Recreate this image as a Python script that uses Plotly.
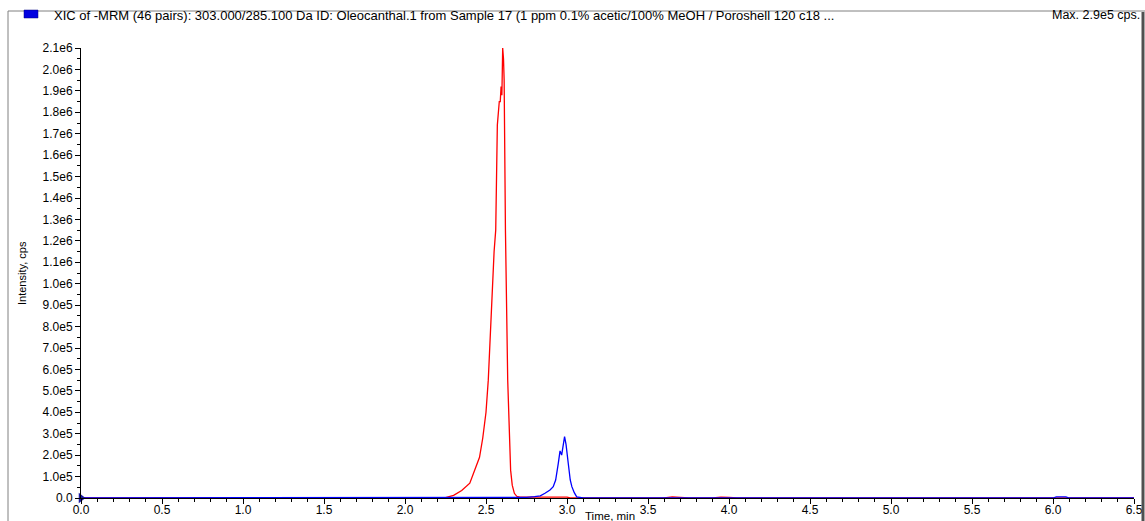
import plotly.graph_objects as go

# ---- data ----
red_time = [0.0, 2.20, 2.25, 2.30, 2.35, 2.40, 2.44, 2.46, 2.48, 2.50, 2.514, 2.53, 2.55, 2.56,
            2.57, 2.582, 2.588, 2.593, 2.598, 2.603, 2.608, 2.612, 2.62, 2.634, 2.642, 2.652,
            2.662, 2.675, 2.69, 2.71, 2.8, 2.9, 3.0, 3.02, 3.6, 3.65, 3.7, 3.75, 3.9, 3.95,
            4.0, 4.05, 6.5]
red_cps = [0, 0, 2e3, 1.2e4, 3.5e4, 6.9e4, 1.5e5, 1.9e5, 2.8e5, 4.0e5, 5.5e5, 8.5e5, 1.15e6,
           1.25e6, 1.74e6, 1.85e6, 1.85e6, 1.92e6, 1.88e6, 2.1e6, 2.05e6, 1.95e6, 1.25e6,
           5.5e5, 3.0e5, 1.3e5, 6e4, 2.2e4, 8e3, 4e3, 4e3, 5e3, 4e3, 0, 0, 5e3, 3e3, 0, 0,
           4e3, 3e3, 0, 0]

blue_time = [0.0, 2.70, 2.75, 2.80, 2.835, 2.864, 2.895, 2.915, 2.93, 2.946, 2.957, 2.967,
             2.977, 2.985, 2.994, 3.0, 3.008, 3.02, 3.03, 3.045, 3.06, 3.10, 6.0, 6.02, 6.05,
             6.08, 6.1, 6.5]
blue_cps = [0, 0, 3e3, 6e3, 1.0e4, 2.2e4, 3.7e4, 5.3e4, 8.4e4, 1.6e5, 2.2e5, 2.0e5, 2.55e5,
            2.86e5, 2.5e5, 2.2e5, 1.6e5, 8.4e4, 5.3e4, 2.5e4, 5e3, 0, 0, 5e3, 4e3, 5e3, 0, 0]

y_tick_vals = [0, 1e5, 2e5, 3e5, 4e5, 5e5, 6e5, 7e5, 8e5, 9e5, 1.0e6, 1.1e6, 1.2e6, 1.3e6,
               1.4e6, 1.5e6, 1.6e6, 1.7e6, 1.8e6, 1.9e6, 2.0e6, 2.1e6]
y_tick_text = ["0.0", "1.0e5", "2.0e5", "3.0e5", "4.0e5", "5.0e5", "6.0e5", "7.0e5", "8.0e5",
               "9.0e5", "1.0e6", "1.1e6", "1.2e6", "1.3e6", "1.4e6", "1.5e6", "1.6e6",
               "1.7e6", "1.8e6", "1.9e6", "2.0e6", "2.1e6"]
x_tick_vals = [0.0, 0.5, 1.0, 1.5, 2.0, 2.5, 3.0, 3.5, 4.0, 4.5, 5.0, 5.5, 6.0, 6.5]
x_tick_text = ["0.0", "0.5", "1.0", "1.5", "2.0", "2.5", "3.0", "3.5", "4.0", "4.5", "5.0",
               "5.5", "6.0", "6.5"]

title_text = ("XIC of -MRM (46 pairs): 303.000/285.100 Da ID: Oleocanthal.1 from Sample 17 "
              "(1 ppm 0.1% acetic/100% MeOH / Poroshell 120 c18 ...")
max_text = "Max. 2.9e5 cps."

FONT = "Liberation Sans, Arial, sans-serif"
W, H = 1053, 450  # plot area size in px

fig = go.Figure()
fig.add_trace(go.Scatter(x=red_time, y=red_cps, mode="lines",
                         line=dict(color="#ff0000", width=1.3), showlegend=False))
fig.add_trace(go.Scatter(x=blue_time, y=blue_cps, mode="lines",
                         line=dict(color="#0000ff", width=1.3), showlegend=False))
# start marker at origin
fig.add_trace(go.Scatter(x=[0.0], y=[0], mode="markers",
                         marker=dict(symbol="triangle-right", size=9, color="#1a1aa0"),
                         cliponaxis=False, showlegend=False))

fig.update_layout(
    width=1145, height=521,
    margin=dict(l=81, r=11, t=48, b=23, autoexpand=False),
    paper_bgcolor="white", plot_bgcolor="white",
    font=dict(family=FONT, size=12, color="#000000"),
    xaxis=dict(range=[0, 6.5], tickvals=x_tick_vals, ticktext=x_tick_text,
               automargin=False, ticklabelstandoff=-4,
               ticks="outside", ticklen=5, tickwidth=1, tickcolor="black",
               showline=True, linecolor="black", linewidth=1, showgrid=False,
               zeroline=False, tickfont=dict(size=12),
               minor=dict(dtick=0.1, tick0=0, ticks="outside", ticklen=3,
                          tickcolor="black", showgrid=False)),
    yaxis=dict(range=[0, 2.1e6], tickvals=y_tick_vals, ticktext=y_tick_text,
               automargin=False,
               ticks="outside", ticklen=5, tickwidth=1, tickcolor="black",
               showline=True, linecolor="black", linewidth=1, showgrid=False,
               zeroline=False, tickfont=dict(size=12),
               minor=dict(dtick=5e4, tick0=0, ticks="outside", ticklen=3,
                          tickcolor="black", showgrid=False)),
    showlegend=False,
)

# frame lines
fig.add_shape(type="line", xref="paper", yref="paper", x0=-73/W, x1=1 + 11/W,
              y0=1 + 37/H, y1=1 + 37/H, line=dict(color="#808080", width=1))
fig.add_shape(type="line", xref="paper", yref="paper", x0=-73/W, x1=-73/W,
              y0=-23/H, y1=1 + 37/H, line=dict(color="#808080", width=1))
fig.add_shape(type="line", xref="paper", yref="paper", x0=1 + 9/W, x1=1 + 9/W,
              y0=-23/H, y1=1 + 36/H, line=dict(color="#505050", width=3))
# legend square
fig.add_shape(type="rect", xref="paper", yref="paper",
              x0=-57/W, x1=-43/W, y0=(498 - 18) / H, y1=(498 - 10) / H,
              fillcolor="#0000e0", line=dict(color="#000080", width=0.5))

# header texts
fig.add_annotation(text=title_text, xref="paper", yref="paper", x=-29/W,
                   y=(498 - 15) / H, xanchor="left", yanchor="middle",
                   showarrow=False, font=dict(size=13, family=FONT))
fig.add_annotation(text=max_text, xref="paper", yref="paper", x=1 + 8/W,
                   y=(498 - 15) / H, xanchor="right", yanchor="middle",
                   showarrow=False, font=dict(size=12.5, family=FONT))
# axis titles
fig.add_annotation(text="Intensity, cps", xref="paper", yref="paper", x=-59/W,
                   y=(498 - 273) / H, xanchor="center", yanchor="middle",
                   textangle=-90, showarrow=False, font=dict(size=11, family=FONT))
fig.add_annotation(text="Time, min", xref="paper", yref="paper", x=(610 - 81) / W,
                   y=-(516 - 498) / H, xanchor="center", yanchor="middle",
                   showarrow=False, font=dict(size=11.5, family=FONT))

fig.write_html("out.html")
